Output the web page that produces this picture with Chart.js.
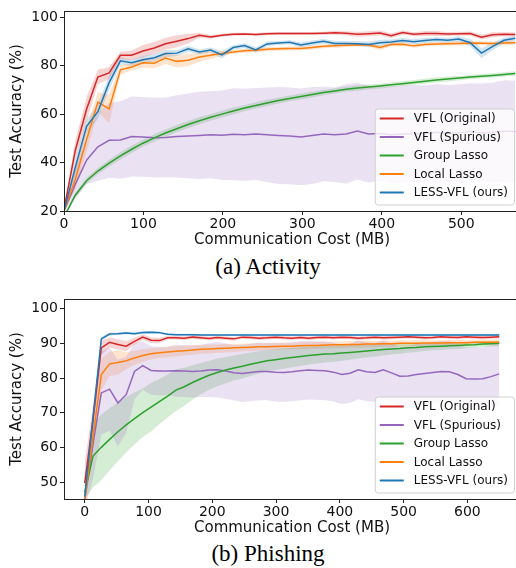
<!DOCTYPE html>
<html>
<head>
<meta charset="utf-8">
<script src="https://cdn.jsdelivr.net/npm/chart.js@4.4.1/dist/chart.umd.min.js"></script>
<style>
    html, body { margin: 0; padding: 0; background: #fff; }
    body { width: 516px; height: 568px; overflow: hidden; position: relative; }
    .panel { position: absolute; left: 0; width: 522px; height: 250px; }
    .caption {
        position: absolute; left: 0; width: 536px; text-align: center;
        font-family: 'Liberation Serif', 'DejaVu Serif', serif; font-size: 23px; color: #000;
        line-height: 26px;
    }
</style>
</head>
<body>
<div class="panel" style="top:0"><canvas id="activityChart"></canvas></div>
<div class="caption" style="top:254px">(a) Activity</div>
<div class="panel" style="top:288px"><canvas id="phishingChart"></canvas></div>
<div class="caption" style="top:541px">(b) Phishing</div>

<script>
// ---- SERIES ----
const seriesNames = ['VFL (Original)', 'VFL (Spurious)', 'Group Lasso', 'Local Lasso', 'LESS-VFL (ours)'];
const seriesColors = ['#d62728', '#9467bd', '#2ca02c', '#ff7f0e', '#1f77b4'];

// ---- (a) ACTIVITY ----
const activityCost = [0, 14.2, 28.4, 42.6, 56.8, 71, 85.2, 99.4, 113.6, 127.8, 142, 156.2, 170.4, 184.6, 198.8, 213, 227.2, 241.4, 255.6, 269.8, 284, 298.2, 312.4, 326.6, 340.8, 355, 369.2, 383.4, 397.6, 411.8, 426, 440.2, 454.4, 468.6, 482.8, 497, 511.2, 525.4, 539.6, 553.8, 568];
const activityOriginal = [20.5, 45, 62, 75.3, 77, 84.3, 84.3, 86.1, 87.3, 89.1, 90.1, 91.2, 92.6, 91.9, 92.6, 93.0, 93.1, 92.9, 93.2, 93.3, 93.3, 93.3, 93.3, 93.4, 93.6, 93.4, 93.0, 93.2, 93.5, 92.4, 93.7, 93.0, 93.3, 93.3, 93.1, 93.2, 93.3, 91.8, 92.8, 93.0, 92.9];
const activityOriginalStd = [0, 4, 5, 3, 2.5, 1.5, 2, 2.5, 2.5, 2.5, 2.5, 2, 1, 0.8, 0.6, 0.6, 0.5, 0.6, 0.6, 0.6, 0.6, 0.6, 0.6, 0.6, 0.8, 0.8, 1, 1, 1, 1, 0.8, 0.8, 1, 1, 0.8, 0.8, 0.8, 1, 1, 0.8, 0.8];
const activitySpurious = [20, 31, 41, 46.5, 49.2, 49.3, 50.8, 50.6, 50.3, 50.4, 50.8, 51.0, 51.2, 51.5, 51.3, 51.7, 51.5, 51.8, 51.5, 51.2, 51.0, 50.6, 51.2, 51.8, 51.5, 51.8, 53.0, 51.8, 52.0, 51.5, 51.8, 52.0, 51.8, 52.5, 52.0, 52.3, 52.8, 52.2, 52.5, 53.0, 52.8];
const activitySpuriousStd = [0, 6, 10, 14, 15.5, 16, 16.5, 16.5, 16.5, 16.5, 17, 17.5, 18, 18, 18.5, 19, 19, 19, 19.5, 20, 20, 20, 20, 19.5, 19.5, 20.5, 20, 20, 19.5, 20, 20, 20, 20, 20, 20, 20, 20, 20.5, 20.5, 21, 21];
const activityGroup = [17.5, 26.5, 32.5, 36.5, 39.8, 42.8, 45.5, 48, 50.2, 52.2, 54.0, 55.7, 57.3, 58.7, 60.0, 61.3, 62.5, 63.6, 64.6, 65.6, 66.5, 67.3, 68.1, 68.9, 69.6, 70.3, 70.8, 71.2, 71.6, 72.1, 72.6, 73.1, 73.6, 74.1, 74.5, 74.9, 75.3, 75.7, 76.0, 76.4, 76.8];
const activityGroupStd = [0.5, 1, 1.2, 1.3, 1.4, 1.5, 1.5, 1.5, 1.5, 1.5, 1.5, 1.5, 1.5, 1.4, 1.4, 1.4, 1.3, 1.3, 1.3, 1.2, 1.2, 1.2, 1.2, 1.1, 1.1, 1.1, 1.1, 1, 1, 1, 1, 1, 1, 1, 1, 0.9, 0.9, 0.9, 0.9, 0.9, 0.9];
const activityLocal = [20, 33, 49.5, 65, 62.2, 78.3, 79.5, 81.2, 81.0, 83.2, 81.8, 82.3, 83.6, 84.3, 85.0, 85.7, 86.2, 86.4, 86.8, 87.0, 87.1, 87.1, 87.5, 88.0, 88.2, 88.5, 88.7, 88.6, 87.5, 88.8, 88.9, 88.2, 88.8, 89.0, 89.1, 89.2, 89.4, 89.3, 89.2, 89.4, 89.5];
const activityLocalStd = [0, 4, 5, 4, 6, 2, 1.5, 2, 2, 2.5, 2.5, 2.5, 2, 1.5, 1, 0.8, 0.8, 0.8, 0.8, 0.8, 0.8, 0.8, 0.8, 0.8, 0.8, 0.8, 0.8, 0.8, 1, 0.8, 0.8, 0.8, 0.8, 0.8, 0.8, 0.8, 0.8, 0.8, 0.8, 0.8, 0.8];
const activityLess = [20, 38, 55, 61, 73, 82, 81.2, 82.5, 83.3, 85, 85.2, 87, 85.7, 86.5, 84.5, 87.5, 88.3, 86.5, 89.0, 89.4, 89.7, 88.6, 89.4, 90.1, 89.2, 89.2, 89.1, 88.8, 89.5, 89.8, 90.4, 89.9, 90.4, 90.8, 90.5, 91.0, 89.5, 85.2, 88, 90.5, 91.3];
const activityLessStd = [0, 3, 3, 3, 3, 1.5, 1.2, 1.5, 1.5, 1.5, 1.2, 1.2, 1, 1, 1.5, 1, 1, 1, 1, 0.8, 0.8, 1, 1, 1, 1, 1, 1, 1.2, 1.2, 1, 1, 1, 1, 1, 1, 1.2, 1.5, 2, 1.5, 1.2, 1];
const activityXTicks = [0, 100, 200, 300, 400, 500];
const activityYTicks = [20, 40, 60, 80, 100];

// ---- (b) PHISHING ----
const phishingCost = [0, 13, 26, 39, 52, 65, 78, 91, 104, 117, 130, 143, 156, 169, 182, 195, 208, 221, 234, 247, 260, 273, 286, 299, 312, 325, 338, 351, 364, 377, 390, 403, 416, 429, 442, 455, 468, 481, 494, 507, 520, 533, 546, 559, 572, 585, 598, 611, 624, 637, 650];
const phishingOriginal = [49.7, 68, 88.7, 90.3, 89.7, 89.2, 90.6, 91.8, 90.9, 90.8, 91.6, 91.6, 91.5, 91.8, 91.6, 91.4, 91.7, 91.5, 91.3, 91.8, 91.7, 91.5, 91.6, 91.8, 91.6, 91.5, 91.7, 91.5, 91.7, 91.8, 91.6, 91.8, 91.7, 91.5, 91.6, 91.8, 91.6, 91.7, 91.8, 91.9, 91.8, 91.6, 91.7, 91.9, 91.8, 91.7, 91.9, 91.8, 91.7, 91.8, 91.9];
const phishingOriginalStd = [6, 4, 2, 1.5, 1.5, 1.5, 1, 0.8, 0.8, 0.8, 0.5, 0.5, 0.5, 0.5, 0.5, 0.5, 0.5, 0.5, 0.5, 0.5, 0.5, 0.5, 0.5, 0.5, 0.5, 0.5, 0.5, 0.5, 0.5, 0.5, 0.5, 0.5, 0.5, 0.5, 0.5, 0.5, 0.5, 0.5, 0.5, 0.5, 0.5, 0.5, 0.5, 0.5, 0.5, 0.5, 0.5, 0.5, 0.5, 0.5, 0.5];
const phishingSpurious = [45, 61, 75.7, 76.8, 72.8, 75.2, 81.9, 83.6, 82.2, 82.0, 82.0, 82.1, 82.0, 81.9, 82.0, 82.3, 82.4, 82.0, 81.5, 81.3, 81.6, 81.9, 81.9, 81.7, 81.6, 81.8, 82.1, 82.3, 82.2, 82.1, 81.7, 81.0, 81.4, 82.4, 81.8, 81.6, 82.4, 81.5, 80.5, 80.6, 81.0, 81.3, 81.6, 81.9, 81.8, 81.0, 79.8, 79.7, 79.8, 80.4, 81.2];
const phishingSpuriousStd = [3, 10, 12, 12, 12.5, 11, 8, 7, 7, 7, 7, 7.5, 7.5, 7.5, 7.5, 7.8, 8, 8, 8, 8.2, 8.3, 8.3, 8.3, 8.5, 8.5, 8.5, 8.5, 8.5, 8.5, 8.5, 8.5, 8.5, 8.5, 8.5, 8.5, 8.5, 8.5, 8.5, 8.5, 8.5, 8.8, 8.8, 8.8, 8.8, 8.8, 8.8, 9, 9, 9, 9, 9];
const phishingGroup = [47, 57.5, 60, 62.3, 64.5, 66.5, 68.3, 70, 71.6, 73.2, 74.8, 76.5, 77.5, 78.7, 79.8, 80.8, 81.6, 82.3, 82.9, 83.4, 84.0, 84.5, 85.0, 85.3, 85.6, 85.9, 86.2, 86.5, 86.7, 86.9, 87.0, 87.2, 87.4, 87.6, 87.8, 88.0, 88.2, 88.4, 88.5, 88.7, 88.8, 89.0, 89.1, 89.2, 89.3, 89.4, 89.5, 89.6, 89.8, 89.9, 90.0];
const phishingGroupStd = [2, 9, 9.5, 9, 8.5, 8, 7.5, 7, 7, 6.5, 6.2, 6, 5.5, 5, 4.5, 4.2, 4, 3.8, 3.6, 3.5, 3.4, 3.2, 3.1, 3, 2.9, 2.8, 2.7, 2.6, 2.5, 2.4, 2.3, 2.2, 2.1, 2, 1.9, 1.8, 1.7, 1.6, 1.5, 1.4, 1.3, 1.2, 1.1, 1.1, 1, 1, 0.9, 0.9, 0.9, 0.8, 0.8];
const phishingLocal = [44.8, 63, 81, 84.1, 84.5, 85, 85.8, 86.5, 87, 87.3, 87.5, 87.7, 87.9, 88.1, 88.3, 88.4, 88.5, 88.6, 88.7, 88.8, 88.9, 89.0, 89.0, 89.1, 89.2, 89.2, 89.3, 89.4, 89.4, 89.5, 89.6, 89.6, 89.7, 89.7, 89.8, 89.8, 89.9, 89.9, 90.0, 90.0, 90.0, 90.1, 90.1, 90.1, 90.2, 90.2, 90.2, 90.3, 90.3, 90.3, 90.3];
const phishingLocalStd = [3, 4, 4.5, 3.5, 3.5, 2.5, 2, 1.8, 1.6, 1.5, 1.5, 1.5, 1.4, 1.4, 1.3, 1.3, 1.2, 1.2, 1.2, 1.1, 1.1, 1.1, 1, 1, 1, 1, 1, 1, 1, 1, 1, 1, 1, 1, 1, 0.9, 0.9, 0.9, 0.9, 0.9, 0.9, 0.8, 0.8, 0.8, 0.8, 0.8, 0.8, 0.8, 0.8, 0.8, 0.8];
const phishingLess = [45.8, 68.5, 91.3, 92.7, 92.8, 93.0, 92.8, 93.1, 93.2, 93.1, 92.6, 92.5, 92.5, 92.5, 92.4, 92.4, 92.4, 92.4, 92.4, 92.4, 92.4, 92.4, 92.4, 92.4, 92.4, 92.4, 92.4, 92.4, 92.4, 92.4, 92.4, 92.4, 92.4, 92.4, 92.4, 92.4, 92.4, 92.4, 92.4, 92.4, 92.4, 92.4, 92.4, 92.4, 92.4, 92.4, 92.4, 92.4, 92.4, 92.4, 92.4];
const phishingLessStd = [1, 1, 0.6, 0.4, 0.4, 0.4, 0.4, 0.4, 0.4, 0.4, 0.3, 0.3, 0.3, 0.3, 0.3, 0.3, 0.3, 0.3, 0.3, 0.3, 0.3, 0.3, 0.3, 0.3, 0.3, 0.3, 0.3, 0.3, 0.3, 0.3, 0.3, 0.3, 0.3, 0.3, 0.3, 0.3, 0.3, 0.3, 0.3, 0.3, 0.3, 0.3, 0.3, 0.3, 0.3, 0.3, 0.3, 0.3, 0.3, 0.3, 0.3];
const phishingXTicks = [0, 100, 200, 300, 400, 500, 600];
const phishingYTicks = [50, 60, 70, 80, 90, 100];

Chart.defaults.font.family = "'DejaVu Sans', sans-serif";
Chart.defaults.color = '#000';

function fade(hex, a) {
    const n = parseInt(hex.slice(1), 16);
    return `rgba(${n >> 16}, ${(n >> 8) & 255}, ${n & 255}, ${a})`;
}

// band datasets first (drawn underneath), then the mean lines
function buildDatasets(cost, means, stds) {
    const sets = [];
    means.forEach((m, i) => {
        sets.push({
            label: seriesNames[i] + ' band', isBand: true,
            data: cost.map((x, k) => ({ x, y: m[k] + stds[i][k] })),
            borderWidth: 0, pointRadius: 0, fill: '+1',
            backgroundColor: fade(seriesColors[i], 0.2), order: 10 + i
        });
        sets.push({
            label: seriesNames[i] + ' low', isBand: true,
            data: cost.map((x, k) => ({ x, y: m[k] - stds[i][k] })),
            borderWidth: 0, pointRadius: 0, fill: false, order: 10 + i
        });
    });
    means.forEach((m, i) => {
        sets.push({
            label: seriesNames[i],
            data: cost.map((x, k) => ({ x, y: m[k] })),
            borderColor: seriesColors[i], borderWidth: 1.5,
            pointRadius: 0, fill: false, tension: 0, order: 5 - i
        });
    });
    return sets;
}

// matplotlib-like frame around the plot area
const framePlugin = {
    id: 'frame',
    afterDatasetsDraw(chart) {
        const a = chart.chartArea, ctx = chart.ctx;
        ctx.save();
        ctx.strokeStyle = '#222';
        ctx.lineWidth = 1;
        ctx.strokeRect(a.left + 0.5, a.top + 0.5, a.right - a.left, a.bottom - a.top);
        ctx.restore();
    }
};

// legend box in the lower right corner of the plot
const boxLegend = {
    id: 'boxLegend',
    afterDraw(chart) {
        const ctx = chart.ctx, a = chart.chartArea;
        const items = chart.data.datasets.filter(d => !d.isBand);
        ctx.save();
        ctx.font = "12px 'DejaVu Sans'";
        const maxW = Math.max(...items.map(d => ctx.measureText(d.label).width));
        const w = 5 + 24 + 10 + maxW + 6;
        const rowH = 18.5;
        const h = 10 + rowH * (items.length - 1) + 12;
        const x0 = a.right - 6 - w;
        const y0 = a.bottom - 6.5 - h;
        ctx.beginPath();
        if (ctx.roundRect) ctx.roundRect(x0 + 0.5, y0 + 0.5, w, h, 3);
        else ctx.rect(x0 + 0.5, y0 + 0.5, w, h);
        ctx.fillStyle = 'rgba(255,255,255,0.8)';
        ctx.fill();
        ctx.strokeStyle = '#d0d0d0';
        ctx.lineWidth = 1;
        ctx.stroke();
        items.forEach((d, i) => {
            const cy = y0 + 10 + i * rowH;
            ctx.strokeStyle = d.borderColor;
            ctx.lineWidth = 2;
            ctx.beginPath();
            ctx.moveTo(x0 + 5, cy);
            ctx.lineTo(x0 + 29, cy);
            ctx.stroke();
            ctx.fillStyle = '#111';
            ctx.textBaseline = 'middle';
            ctx.fillText(d.label, x0 + 39, cy + 0.5);
        });
        ctx.restore();
    }
};

function renderPanel(id, cost, means, stds, xr, yr, xTicks, yTicks) {
    const canvas = document.getElementById(id);
    return new Chart(canvas, {
        type: 'line',
        data: { datasets: buildDatasets(cost, means, stds) },
        plugins: [framePlugin, boxLegend],
        options: {
            responsive: true,
            maintainAspectRatio: false,
            animation: false,
            events: [],
            layout: { padding: { top: 11, right: 2, bottom: 0, left: 0 } },
            plugins: { legend: { display: false }, tooltip: { enabled: false } },
            scales: {
                x: {
                    type: 'linear', min: xr[0], max: xr[1],
                    afterBuildTicks: s => { s.ticks = xTicks.map(v => ({ value: v })); },
                    afterFit: s => { s.height = 39; },
                    grid: { drawOnChartArea: false, drawTicks: true, tickLength: 4, tickColor: '#222' },
                    border: { display: true, color: '#222' },
                    ticks: { color: '#111', font: { size: 14 }, padding: 1, maxRotation: 0, autoSkip: false },
                    title: {
                        display: true, text: 'Communication Cost (MB)', color: '#111',
                        font: { size: 15 }, padding: { top: 0, bottom: 1 }
                    }
                },
                y: {
                    type: 'linear', min: yr[0], max: yr[1],
                    afterBuildTicks: s => { s.ticks = yTicks.map(v => ({ value: v })); },
                    afterFit: s => { s.width = 64; },
                    grid: { drawOnChartArea: false, drawTicks: true, tickLength: 4, tickColor: '#222' },
                    border: { display: true, color: '#222' },
                    ticks: { color: '#111', font: { size: 14 }, padding: 2, autoSkip: false },
                    title: {
                        display: true, text: 'Test Accuracy (%)', color: '#111',
                        font: { size: 15 }, padding: { top: 8, bottom: 0 }
                    }
                }
            }
        }
    });
}

renderPanel('activityChart', activityCost,
    [activityOriginal, activitySpurious, activityGroup, activityLocal, activityLess],
    [activityOriginalStd, activitySpuriousStd, activityGroupStd, activityLocalStd, activityLessStd],
    [0, 573.9], [20, 102.6], activityXTicks, activityYTicks);

renderPanel('phishingChart', phishingCost,
    [phishingOriginal, phishingSpurious, phishingGroup, phishingLocal, phishingLess],
    [phishingOriginalStd, phishingSpuriousStd, phishingGroupStd, phishingLocalStd, phishingLessStd],
    [-32.5, 682.5], [45.1, 102.8], phishingXTicks, phishingYTicks);
</script>
</body>
</html>
